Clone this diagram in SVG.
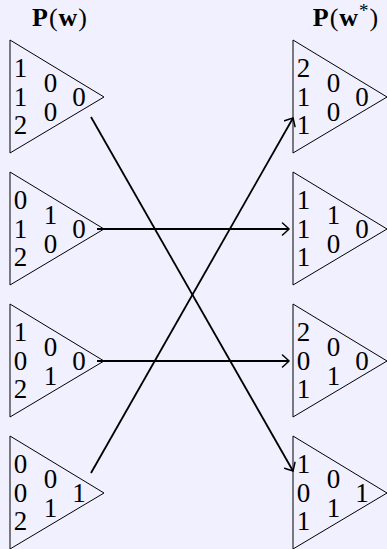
<svg xmlns="http://www.w3.org/2000/svg" width="387" height="549" viewBox="0 0 387 549">
<defs>
<style>
.bg{fill:#F0F0FF}
.tri{fill:none;stroke:#000;stroke-width:1}
.d{font-family:"Liberation Serif","Times New Roman",serif;font-size:27px;fill:#000;text-anchor:middle}
.t{font-family:"Liberation Serif","Times New Roman",serif;font-size:26px;fill:#000;text-anchor:middle;letter-spacing:1px}
.b{font-weight:bold}
.c{fill:none;stroke:#000;stroke-width:1.8}
</style>
<marker id="ar" markerUnits="userSpaceOnUse" markerWidth="14" markerHeight="14" viewBox="-10 -7 14 14" refX="0" refY="0" orient="auto">
<path d="M-6.5,-6 Q-1.5,-1.5 0,0 Q-1.5,1.5 -6.5,6" fill="none" stroke="#000" stroke-width="1.5" stroke-linecap="round"/>
</marker>
<polygon id="tri" points="0,0 0,113 94,57"/>
</defs>
<rect class="bg" x="0" y="0" width="387" height="549"/>
<text class="t" x="60" y="26"><tspan class="b">P</tspan>(<tspan class="b">w</tspan>)</text>
<text class="t" x="346" y="26"><tspan class="b">P</tspan>(<tspan class="b">w</tspan><tspan font-size="19" dy="-9">*</tspan><tspan dy="9">)</tspan></text>
<g id="L1" transform="translate(10,40)">
<use href="#tri" class="tri"/>
<text class="d" x="10.5" y="37">1</text><text class="d" x="10.5" y="66">1</text><text class="d" x="10.5" y="94">2</text>
<text class="d" x="40.5" y="52">0</text><text class="d" x="40.5" y="81">0</text>
<text class="d" x="69" y="66">0</text>
</g>
<g id="L2" transform="translate(10,172)">
<use href="#tri" class="tri"/>
<text class="d" x="10.5" y="37">0</text><text class="d" x="10.5" y="66">1</text><text class="d" x="10.5" y="94">2</text>
<text class="d" x="40.5" y="52">1</text><text class="d" x="40.5" y="81">0</text>
<text class="d" x="69" y="66">0</text>
</g>
<g id="L3" transform="translate(10,304)">
<use href="#tri" class="tri"/>
<text class="d" x="10.5" y="37">1</text><text class="d" x="10.5" y="66">0</text><text class="d" x="10.5" y="94">2</text>
<text class="d" x="40.5" y="52">0</text><text class="d" x="40.5" y="81">1</text>
<text class="d" x="69" y="66">0</text>
</g>
<g id="L4" transform="translate(10,436)">
<use href="#tri" class="tri"/>
<text class="d" x="10.5" y="37">0</text><text class="d" x="10.5" y="66">0</text><text class="d" x="10.5" y="94">2</text>
<text class="d" x="40.5" y="52">0</text><text class="d" x="40.5" y="81">1</text>
<text class="d" x="69" y="66">1</text>
</g>
<g id="R1" transform="translate(293,40)">
<use href="#tri" class="tri"/>
<text class="d" x="10.5" y="37">2</text><text class="d" x="10.5" y="66">1</text><text class="d" x="10.5" y="94">1</text>
<text class="d" x="40.5" y="52">0</text><text class="d" x="40.5" y="81">0</text>
<text class="d" x="69" y="66">0</text>
</g>
<g id="R2" transform="translate(293,172)">
<use href="#tri" class="tri"/>
<text class="d" x="10.5" y="37">1</text><text class="d" x="10.5" y="66">1</text><text class="d" x="10.5" y="94">1</text>
<text class="d" x="40.5" y="52">1</text><text class="d" x="40.5" y="81">0</text>
<text class="d" x="69" y="66">0</text>
</g>
<g id="R3" transform="translate(293,304)">
<use href="#tri" class="tri"/>
<text class="d" x="10.5" y="37">2</text><text class="d" x="10.5" y="66">0</text><text class="d" x="10.5" y="94">1</text>
<text class="d" x="40.5" y="52">0</text><text class="d" x="40.5" y="81">1</text>
<text class="d" x="69" y="66">0</text>
</g>
<g id="R4" transform="translate(293,436)">
<use href="#tri" class="tri"/>
<text class="d" x="10.5" y="37">1</text><text class="d" x="10.5" y="66">0</text><text class="d" x="10.5" y="94">1</text>
<text class="d" x="40.5" y="52">0</text><text class="d" x="40.5" y="81">1</text>
<text class="d" x="69" y="66">1</text>
</g>
<g id="connectors">
<line class="c" x1="91" y1="117" x2="293" y2="471" marker-end="url(#ar)"/>
<line class="c" x1="97" y1="229" x2="289" y2="229" marker-end="url(#ar)"/>
<line class="c" x1="97" y1="361" x2="289" y2="361" marker-end="url(#ar)"/>
<line class="c" x1="91" y1="473" x2="293" y2="118" marker-end="url(#ar)"/>
</g>
</svg>
